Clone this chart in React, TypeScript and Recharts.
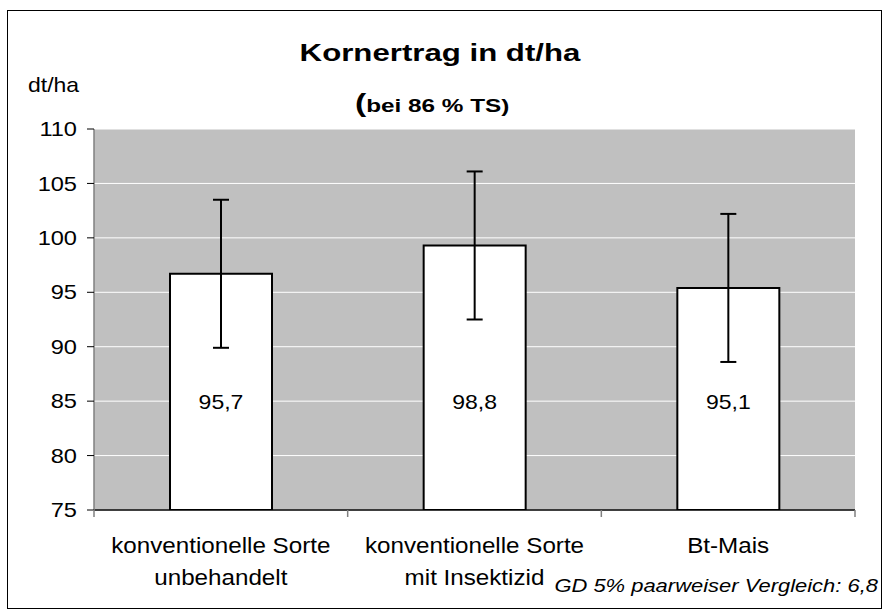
import React from 'react';
import { BarChart, Bar, XAxis, YAxis, CartesianGrid, ErrorBar, LabelList } from 'recharts';

// Values as drawn (bar heights), the printed labels, and the GD 5% whisker
const categories = ['konventionelle Sorte unbehandelt', 'konventionelle Sorte mit Insektizid', 'Bt-Mais'];
const catLine1 = ['konventionelle Sorte', 'konventionelle Sorte', 'Bt-Mais'];
const catLine2 = ['unbehandelt', 'mit Insektizid', ''];
const barValues = [96.7, 99.3, 95.4];
const barLabels = ['95,7', '98,8', '95,1'];
const gdValues = [6.8, 6.8, 6.8];
const yTicks = [75, 80, 85, 90, 95, 100, 105, 110];

const W = 883;
const H = 610;
const M = { top: 129, right: 28, left: 0, bottom: 0 };
const Y_AXIS_W = 94;
const BAND = (W - Y_AXIS_W - M.right) / categories.length;
const FONT = 'Arial, "Liberation Sans", sans-serif';

const data = categories.map((c, i) => ({
  cat: c,
  value: barValues[i],
  err: gdValues[i],
  label: barLabels[i],
}));

const YTick = (props: any) => {
  const { x, y, payload } = props;
  return (
    <text
      transform={`translate(${x - 8},${y}) scale(1.18,1)`}
      textAnchor="end"
      dy="0.36em"
      fontSize={20}
      fontFamily={FONT}
      fill="#000"
    >
      {payload.value}
    </text>
  );
};

const XTick = (props: any) => {
  const { x, y, index } = props;
  const left = x - BAND / 2;
  const right = x + BAND / 2;
  return (
    <g>
      <line x1={left} y1={y} x2={left} y2={y + 7} stroke="#808080" strokeWidth={1.5} />
      {index === categories.length - 1 && (
        <line x1={right} y1={y} x2={right} y2={y + 7} stroke="#808080" strokeWidth={1.5} />
      )}
      <text transform={`translate(${x},${y + 43}) scale(1.1,1)`} textAnchor="middle" fontSize={22} fontFamily={FONT} fill="#000">
        {catLine1[index]}
      </text>
      <text transform={`translate(${x},${y + 75}) scale(1.1,1)`} textAnchor="middle" fontSize={22} fontFamily={FONT} fill="#000">
        {catLine2[index]}
      </text>
    </g>
  );
};

const BarLabel = (props: any) => {
  const { x, y, width, height, value } = props;
  // labels sit at a fixed height inside the bar (near the 85 line)
  const cy = y + height - 108;
  return (
    <text
      transform={`translate(${x + width / 2},${cy}) scale(1.15,1)`}
      textAnchor="middle"
      dy="0.36em"
      fontSize={20}
      fontFamily={FONT}
      fill="#000"
    >
      {value}
    </text>
  );
};

export default function App() {
  return (
    <div style={{ position: 'absolute', left: 0, top: 0, width: W, height: H, background: '#fff', fontFamily: FONT }}>
      <div
        style={{
          position: 'absolute',
          left: 7,
          top: 10,
          width: 875,
          height: 599,
          border: '1px solid #000',
          boxSizing: 'border-box',
        }}
      />
      <BarChart width={W} height={H} data={data} margin={M} style={{ position: 'absolute', left: 0, top: 0 }}>
        <CartesianGrid vertical={false} stroke="#fff" strokeWidth={1} fill="#c0c0c0" />
        <XAxis
          dataKey="cat"
          height={100}
          axisLine={{ stroke: '#000', strokeWidth: 1.5 }}
          tickLine={false}
          tickSize={0}
          tickMargin={0}
          interval={0}
          tick={<XTick />}
        />
        <YAxis
          domain={[75, 110]}
          ticks={yTicks}
          width={Y_AXIS_W}
          allowDataOverflow
          axisLine={{ stroke: '#808080', strokeWidth: 1.5 }}
          tickLine={{ stroke: '#000', strokeWidth: 1 }}
          tickSize={7}
          tick={<YTick />}
        />
        <Bar dataKey="value" fill="#fff" stroke="#000" strokeWidth={2} barSize={102} isAnimationActive={false}>
          <ErrorBar dataKey="err" width={8} stroke="#000" strokeWidth={2} direction="y" />
          <LabelList dataKey="label" content={<BarLabel />} />
        </Bar>
      </BarChart>
      <svg width={W} height={H} style={{ position: 'absolute', left: 0, top: 0, pointerEvents: 'none' }}>
        <text transform="translate(440,61) scale(1.3,1)" textAnchor="middle" fontSize={24} fontWeight="bold" fontFamily={FONT} fill="#000">
          Kornertrag in dt/ha
        </text>
        <text transform="translate(355,112) scale(1.35,1)" fontFamily={FONT} fill="#000" fontWeight="bold">
          <tspan fontSize={25}>(</tspan>
          <tspan fontSize={18}>bei 86 % TS)</tspan>
        </text>
        <text transform="translate(28,92) scale(1.15,1)" fontSize={20} fontFamily={FONT} fill="#000">
          dt/ha
        </text>
        <text transform="translate(878,592) scale(1.22,1)" textAnchor="end" fontSize={18} fontStyle="italic" fontFamily={FONT} fill="#000">
          GD 5% paarweiser Vergleich: 6,8
        </text>
      </svg>
    </div>
  );
}
